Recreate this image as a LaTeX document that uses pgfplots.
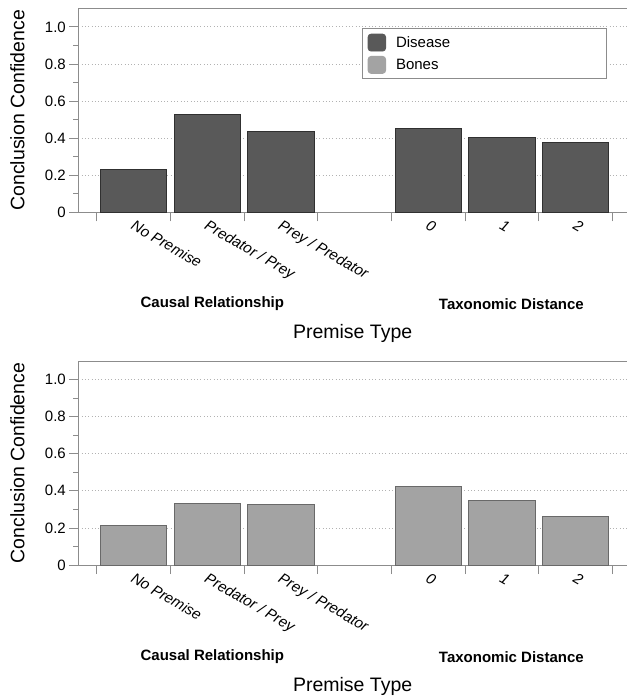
\documentclass[border=0pt]{standalone}
\usepackage{fontspec}
\setmainfont{Liberation Sans}
\usepackage{pgfplots}
\pgfplotsset{compat=1.18}
\definecolor{disease}{RGB}{89,89,89}
\definecolor{diseaseedge}{RGB}{48,48,48}
\definecolor{bones}{RGB}{163,163,163}
\definecolor{bonesedge}{RGB}{105,105,105}
\definecolor{axisgray}{RGB}{140,140,140}
\tikzset{grouplabels/.style={font=\fontsize{15}{18}\selectfont\bfseries, anchor=center, yshift=-91.7pt}}
\pgfplotsset{
  panel/.style={
    scale only axis, width=548.7pt, height=204pt,
    xmin=-0.75, xmax=6.7, ymin=0, ymax=1.1,
    clip=false,
    axis x line*=bottom, axis y line*=left,
    axis line style={-, draw=axisgray, line width=0.8pt},
    tick align=outside,
    major tick length=9pt, minor tick length=5pt,
    tick style={draw=axisgray, line width=0.8pt},
    xtick={-0.5,0.5,1.5,2.5,3.5,4.5,5.5,6.5},
    xticklabels={},
    extra x ticks={0,1,2,4,5,6},
    extra x tick labels={No Premise,Predator / Prey,Prey / Predator,0,1,2},
    extra x tick style={major tick length=0pt},
    xticklabel style={font=\fontsize{15}{18}\selectfont\itshape, rotate=-30, anchor=north west, inner sep=0pt, yshift=-5pt, xshift=5pt},
    ytick={0,0.2,0.4,0.6,0.8,1},
    yticklabels={0,0.2,0.4,0.6,0.8,1.0},
    minor y tick num=1,
    yticklabel style={font=\fontsize{15}{18}\selectfont},
    /pgf/number format/assume math mode=true,
    ymajorgrids=true,
    grid style={draw=gray!60, line width=0.7pt, dash pattern=on 0.7pt off 2.6pt},
    ylabel={Conclusion Confidence},
    ylabel style={font=\fontsize{19.5}{23}\selectfont, at={(axis description cs:-0.1108,0.5)}, anchor=center},
    xlabel={Premise Type},
    xlabel style={font=\fontsize{19.5}{23}\selectfont, at={(axis description cs:0.5,0)}, anchor=center, yshift=-121.5pt},
  },
}
\begin{document}
\begin{tikzpicture}
\path[use as bounding box] (0,0) rectangle (627pt,696pt);
% top panel: Disease
\begin{axis}[panel, at={(78.3pt,483.7pt)}, anchor=south west,
  legend style={at={(rel axis cs:0.5176,0.902)}, anchor=north west,
    draw=axisgray, line width=0.8pt, inner sep=5pt,
    font=\fontsize{15}{18}\selectfont,
    nodes={inner xsep=5pt, inner ysep=2pt}, row sep=4.5pt},
  legend cell align=left]
\addplot[ybar, bar width=0.9, bar shift=0pt, fill=disease, draw=diseaseedge, line width=0.8pt,
  legend image code/.code={\fill[disease, rounded corners=3pt] (4pt,-8.5pt) rectangle (21.5pt,8.5pt);}]
  coordinates {(0,0.232) (1,0.528) (2,0.436) (4,0.453) (5,0.404) (6,0.377)};
\addlegendentry{\makebox[205.5pt][l]{\hspace{5pt}Disease}}
\addlegendimage{legend image code/.code={\fill[bones, rounded corners=3pt] (4pt,-8.5pt) rectangle (21.5pt,8.5pt);}}
\addlegendentry{\makebox[205.5pt][l]{\hspace{5pt}Bones}}
\draw[axisgray, line width=0.8pt] (rel axis cs:0,1) -- (rel axis cs:1,1);
\node[grouplabels] at (axis cs:1.07,0) {Causal Relationship};
\node[grouplabels] at (axis cs:5.13,0) {Taxonomic Distance};
\end{axis}
% bottom panel: Bones
\begin{axis}[panel, at={(78.3pt,131pt)}, anchor=south west]
\addplot[ybar, bar width=0.9, bar shift=0pt, fill=bones, draw=bonesedge, line width=0.8pt]
  coordinates {(0,0.211) (1,0.334) (2,0.326) (4,0.422) (5,0.350) (6,0.263)};
\draw[axisgray, line width=0.8pt] (rel axis cs:0,1) -- (rel axis cs:1,1);
\node[grouplabels] at (axis cs:1.07,0) {Causal Relationship};
\node[grouplabels] at (axis cs:5.13,0) {Taxonomic Distance};
\end{axis}
\end{tikzpicture}
\end{document}
